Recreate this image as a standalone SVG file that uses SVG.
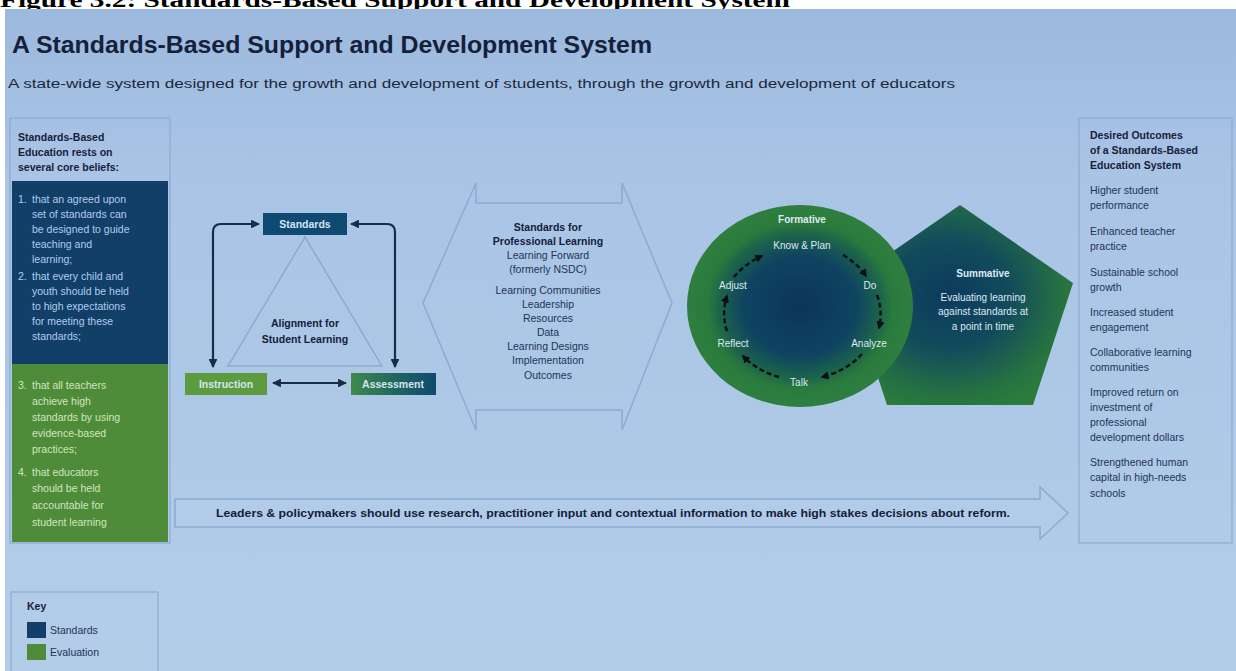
<svg xmlns="http://www.w3.org/2000/svg" width="1236" height="671" viewBox="0 0 1236 671">
  <defs>
    <linearGradient id="panelBg" x1="0" y1="0" x2="0" y2="1">
      <stop offset="0" stop-color="#9cb9de"/>
      <stop offset="0.25" stop-color="#a9c4e5"/>
      <stop offset="1" stop-color="#b3cde9"/>
    </linearGradient>
    <linearGradient id="assessFill" x1="0" y1="0" x2="1" y2="0">
      <stop offset="0" stop-color="#3f8a4a"/>
      <stop offset="0.55" stop-color="#1f6460"/>
      <stop offset="1" stop-color="#0f4a72"/>
    </linearGradient>
    <radialGradient id="formFill" cx="0.5" cy="0.5" r="0.5">
      <stop offset="0" stop-color="#0b3558"/>
      <stop offset="0.5" stop-color="#0f4461"/>
      <stop offset="0.72" stop-color="#1d6549"/>
      <stop offset="0.82" stop-color="#2a7a3d"/>
      <stop offset="1" stop-color="#2e7f3f"/>
    </radialGradient>
    <radialGradient id="sumFill" cx="0.45" cy="0.45" r="0.6">
      <stop offset="0" stop-color="#0c3a5d"/>
      <stop offset="0.45" stop-color="#124b5c"/>
      <stop offset="0.85" stop-color="#267341"/>
      <stop offset="1" stop-color="#2b7b3c"/>
    </radialGradient>
    <marker id="navyHead" viewBox="0 0 10 10" refX="9" refY="5" markerWidth="4" markerHeight="4" orient="auto-start-reverse">
      <path d="M0,0 L10,5 L0,10 z" fill="#1b2b4a"/>
    </marker>
    <marker id="blackHead" viewBox="0 0 10 10" refX="8" refY="5" markerWidth="3.4" markerHeight="3.4" orient="auto">
      <path d="M0,0 L10,5 L0,10 z" fill="#0a0f14"/>
    </marker>
    <style>
      text { font-family: "Liberation Sans", Arial, sans-serif; }
      .caption { font-family: "Liberation Serif", "Times New Roman", serif; font-weight: bold; font-size: 20px; fill: #000; }
      .title { font-weight: bold; font-size: 24px; fill: #15203a; }
      .sub { font-size: 12px; fill: #1c2840; }
      .hdr { font-weight: bold; font-size: 10.5px; fill: #15203a; }
      .belief-s { font-size: 10.5px; fill: #b0ccee; }
      .belief-e { font-size: 10.5px; fill: #d0e6bf; }
      .item { font-size: 10.5px; fill: #1e3458; }
      .frame { fill: none; stroke: #8eaad0; stroke-width: 1.2; }
      .boxlbl { font-weight: bold; font-size: 10.5px; fill: #d6e4f2; text-anchor: middle; }
      .mid { text-anchor: middle; }
      .navyTxt { font-size: 10.5px; fill: #1e3458; }
      .navyBold { font-weight: bold; font-size: 10.5px; fill: #15203a; }
      .light { font-size: 10px; fill: #dfe9f2; text-anchor: middle; }
      .lightBold { font-weight: bold; font-size: 10px; fill: #dfe9f2; text-anchor: middle; }
      .outline { fill: none; stroke: #8cabd3; stroke-width: 1.5; }
      .conn { fill: none; stroke: #1b2b4a; stroke-width: 2.2; }
      .cycle { fill: none; stroke: #0a0f14; stroke-width: 2.4; stroke-dasharray: 5 3; }
    </style>
  </defs>

  <!-- page caption, partly hidden under the panel -->
  <rect x="0" y="0" width="1236" height="671" fill="#ffffff"/>
  <text class="caption" x="0" y="7" textLength="790" lengthAdjust="spacingAndGlyphs">Figure 3.2: Standards-Based Support and Development System</text>

  <!-- main panel -->
  <rect x="5" y="9" width="1231" height="662" fill="url(#panelBg)"/>

  <text class="title" x="12" y="53" textLength="640" lengthAdjust="spacingAndGlyphs">A Standards-Based Support and Development System</text>
  <text class="sub" x="8" y="88" textLength="947" lengthAdjust="spacingAndGlyphs">A state-wide system designed for the growth and development of students, through the growth and development of educators</text>

  <!-- left column: core beliefs -->
  <g id="beliefs">
    <rect class="frame" x="10" y="118" width="160" height="425"/>
    <text class="hdr" x="18" y="141">Standards-Based</text>
    <text class="hdr" x="18" y="156">Education rests on</text>
    <text class="hdr" x="18" y="171">several core beliefs:</text>
    <rect x="12" y="181" width="156" height="183" fill="#123f68"/>
    <g class="belief-s">
      <text x="18" y="203">1.</text>
      <text x="32" y="203">that an agreed upon</text>
      <text x="32" y="218">set of standards can</text>
      <text x="32" y="233">be designed to guide</text>
      <text x="32" y="248">teaching and</text>
      <text x="32" y="263">learning;</text>
      <text x="18" y="280">2.</text>
      <text x="32" y="280">that every child and</text>
      <text x="32" y="295">youth should be held</text>
      <text x="32" y="310">to high expectations</text>
      <text x="32" y="325">for meeting these</text>
      <text x="32" y="340">standards;</text>
    </g>
    <rect x="12" y="364" width="156" height="178" fill="#4f8c3a"/>
    <g class="belief-e">
      <text x="18" y="389">3.</text>
      <text x="32" y="389">that all teachers</text>
      <text x="32" y="405">achieve high</text>
      <text x="32" y="421">standards by using</text>
      <text x="32" y="437">evidence-based</text>
      <text x="32" y="453">practices;</text>
      <text x="18" y="476">4.</text>
      <text x="32" y="476">that educators</text>
      <text x="32" y="492">should be held</text>
      <text x="32" y="509">accountable for</text>
      <text x="32" y="526">student learning</text>
    </g>
  </g>

  <!-- alignment triangle -->
  <g id="alignment">
    <polygon class="outline" points="305,237 228,366 382,366"/>
    <text class="navyBold mid" x="305" y="327">Alignment for</text>
    <text class="navyBold mid" x="305" y="343">Student Learning</text>
  </g>

  <g id="standards">
    <rect x="263" y="213" width="84" height="22" fill="#0f4a72"/>
    <text class="boxlbl" x="305" y="228">Standards</text>
  </g>
  <g id="instruction">
    <rect x="185" y="373" width="82" height="22" fill="#5c9c3e"/>
    <text class="boxlbl" x="226" y="388">Instruction</text>
  </g>
  <g id="assessment">
    <rect x="351" y="373" width="85" height="22" fill="url(#assessFill)"/>
    <text class="boxlbl" x="393" y="388">Assessment</text>
  </g>

  <!-- connectors of the alignment loop -->
  <g id="connectors">
    <path class="conn" d="M259,224 L221,224 Q213,224 213,232 L213,367" marker-start="url(#navyHead)" marker-end="url(#navyHead)"/>
    <path class="conn" d="M351,224 L387,224 Q395,224 395,232 L395,367" marker-start="url(#navyHead)" marker-end="url(#navyHead)"/>
    <path class="conn" d="M273,383 L346,383" marker-start="url(#navyHead)" marker-end="url(#navyHead)"/>
  </g>

  <!-- professional learning double arrow -->
  <g id="professional-learning">
    <polygon class="outline" points="423,303 476,183 476,203 622,203 622,183 672,303 622,430 622,410 476,410 476,430"/>
    <text class="navyBold mid" x="548" y="231">Standards for</text>
    <text class="navyBold mid" x="548" y="245">Professional Learning</text>
    <text class="navyTxt mid" x="548" y="259">Learning Forward</text>
    <text class="navyTxt mid" x="548" y="273">(formerly NSDC)</text>
    <text class="navyTxt mid" x="548" y="294">Learning Communities</text>
    <text class="navyTxt mid" x="548" y="308">Leadership</text>
    <text class="navyTxt mid" x="548" y="322">Resources</text>
    <text class="navyTxt mid" x="548" y="336">Data</text>
    <text class="navyTxt mid" x="548" y="350">Learning Designs</text>
    <text class="navyTxt mid" x="548" y="364">Implementation</text>
    <text class="navyTxt mid" x="548" y="379">Outcomes</text>
  </g>

  <!-- summative pentagon -->
  <g id="summative">
    <polygon points="960,205 1073,283 1033,405 887,405 847,283" fill="url(#sumFill)"/>
    <text class="lightBold" x="983" y="277">Summative</text>
    <text class="light" x="983" y="301">Evaluating learning</text>
    <text class="light" x="983" y="315">against standards at</text>
    <text class="light" x="983" y="330">a point in time</text>
  </g>

  <!-- formative cycle -->
  <g id="formative">
    <ellipse cx="800" cy="306" rx="113" ry="101" fill="url(#formFill)"/>
    <text class="lightBold" x="802" y="223">Formative</text>
    <text class="light" x="802" y="249">Know &amp; Plan</text>
    <text class="light" x="870" y="289">Do</text>
    <text class="light" x="869" y="347">Analyze</text>
    <text class="light" x="799" y="386">Talk</text>
    <text class="light" x="733" y="347">Reflect</text>
    <text class="light" x="733" y="289">Adjust</text>
    <path class="cycle" d="M843,255 A78 65 0 0 1 866,276" marker-end="url(#blackHead)"/>
    <path class="cycle" d="M877,295 A78 65 0 0 1 879,328" marker-end="url(#blackHead)"/>
    <path class="cycle" d="M862,354 A78 65 0 0 1 822,377" marker-end="url(#blackHead)"/>
    <path class="cycle" d="M779,377 A78 65 0 0 1 743,356" marker-end="url(#blackHead)"/>
    <path class="cycle" d="M727,331 A78 65 0 0 1 727,296" marker-end="url(#blackHead)"/>
    <path class="cycle" d="M734,277 A78 65 0 0 1 762,256" marker-end="url(#blackHead)"/>
  </g>

  <!-- right column: desired outcomes -->
  <g id="outcomes">
    <rect class="frame" x="1079" y="118" width="153" height="425"/>
    <text class="hdr" x="1090" y="139">Desired Outcomes</text>
    <text class="hdr" x="1090" y="154">of a Standards-Based</text>
    <text class="hdr" x="1090" y="169">Education System</text>
    <g class="item">
      <text x="1090" y="194">Higher student</text>
      <text x="1090" y="209">performance</text>
      <text x="1090" y="235">Enhanced teacher</text>
      <text x="1090" y="250">practice</text>
      <text x="1090" y="276">Sustainable school</text>
      <text x="1090" y="291">growth</text>
      <text x="1090" y="316">Increased student</text>
      <text x="1090" y="331">engagement</text>
      <text x="1090" y="356">Collaborative learning</text>
      <text x="1090" y="371">communities</text>
      <text x="1090" y="396">Improved return on</text>
      <text x="1090" y="411">investment of</text>
      <text x="1090" y="426">professional</text>
      <text x="1090" y="441">development dollars</text>
      <text x="1090" y="466">Strengthened human</text>
      <text x="1090" y="481">capital in high-needs</text>
      <text x="1090" y="497">schools</text>
    </g>
  </g>

  <!-- policy arrow along the bottom -->
  <g id="policy">
    <polygon points="175,499 1040,499 1040,487 1068,513 1040,539 1040,527 175,527" fill="#b1cbe8" stroke="#8cabd3" stroke-width="1.5"/>
    <text class="navyBold" x="216" y="517" textLength="794" lengthAdjust="spacingAndGlyphs">Leaders &amp; policymakers should use research, practitioner input and contextual information to make high stakes decisions about reform.</text>
  </g>

  <!-- key -->
  <g id="key">
    <rect class="frame" x="11" y="592" width="147" height="85"/>
    <text class="navyBold" x="27" y="610">Key</text>
    <rect x="27" y="622" width="19" height="16" fill="#123f68"/>
    <text class="navyTxt" x="50" y="634">Standards</text>
    <rect x="27" y="644" width="19" height="16" fill="#4f8c3a"/>
    <text class="navyTxt" x="50" y="656">Evaluation</text>
  </g>
</svg>
